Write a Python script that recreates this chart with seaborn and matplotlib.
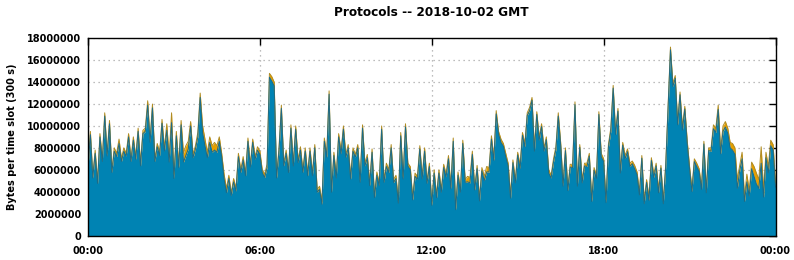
import numpy as np
import pandas as pd
import matplotlib
matplotlib.use("Agg")
import matplotlib.pyplot as plt
import seaborn as sns

# Top of stack (total bytes per 5-min slot, in millions), 00:00 .. 24:00
total_mb = [
    6.5, 9.5, 5.5, 7.8, 5.0, 9.3, 7.0, 11.2, 7.5, 10.5, 6.0, 8.0,
    7.5, 8.8, 7.0, 8.0, 7.5, 9.3, 7.0, 9.0, 7.2, 9.8, 6.6, 9.6,
    9.8, 12.3, 8.8, 12.0, 7.0, 8.4, 7.6, 10.6, 8.0, 10.2, 7.2, 11.2,
    5.6, 9.5, 6.5, 10.5, 7.5, 8.2, 8.6, 10.4, 7.4, 8.2, 9.4, 13.0,
    10.0, 8.8, 7.6, 9.0, 8.2, 8.5, 8.2, 9.0, 7.5, 5.6, 4.3, 5.5,
    3.9, 5.2, 4.3, 7.5, 6.0, 7.2, 5.7, 8.9, 6.5, 8.8, 7.2, 8.1,
    7.7, 6.0, 5.6, 6.5, 14.8, 14.5, 14.0, 5.5, 8.0, 11.9, 6.6, 7.8,
    6.0, 10.1, 6.6, 10.0, 6.9, 8.1, 6.0, 8.0, 5.7, 8.0, 5.7, 8.3,
    4.2, 4.5, 3.1, 8.9, 7.4, 13.2, 4.2, 7.6, 5.5, 9.3, 7.7, 10.0,
    7.4, 8.3, 5.4, 8.0, 7.4, 8.3, 5.1, 10.1, 6.6, 7.4, 4.8, 7.9,
    3.7, 5.8, 4.8, 10.0, 5.1, 6.6, 6.0, 8.3, 5.1, 5.5, 3.2, 9.4,
    5.4, 10.2, 6.6, 6.3, 3.5, 5.7, 5.4, 8.2, 5.4, 8.0, 5.0, 6.6,
    3.0, 6.0, 3.7, 6.0, 4.2, 6.5, 5.6, 7.3, 4.5, 8.9, 2.6, 5.8,
    4.2, 8.7, 5.1, 5.4, 5.3, 7.7, 4.4, 6.4, 3.4, 6.2, 5.4, 6.3,
    6.2, 9.1, 7.1, 11.4, 9.5, 8.8, 8.4, 7.5, 6.6, 3.7, 6.9, 5.1,
    7.6, 6.4, 9.4, 8.4, 11.2, 11.7, 12.6, 8.0, 11.3, 9.0, 10.2, 8.0,
    9.0, 6.0, 5.5, 7.0, 8.1, 11.2, 8.5, 4.8, 8.0, 4.4, 6.5, 6.5,
    12.2, 4.8, 8.3, 5.1, 6.6, 6.6, 7.5, 3.4, 6.2, 5.5, 11.3, 7.5,
    7.0, 3.3, 8.3, 9.8, 13.7, 9.5, 11.6, 6.0, 8.5, 7.3, 7.9, 6.6,
    6.8, 6.4, 5.8, 4.0, 7.3, 3.2, 5.1, 3.5, 7.1, 5.6, 6.6, 4.2,
    6.4, 3.2, 6.5, 11.8, 17.2, 13.9, 14.6, 10.4, 13.1, 9.9, 11.8, 8.7,
    6.3, 4.3, 7.0, 6.6, 6.1, 4.5, 8.6, 4.2, 8.0, 8.0, 10.1, 9.8,
    11.9, 7.8, 10.0, 10.4, 9.8, 8.5, 8.4, 8.0, 5.1, 6.4, 7.6, 3.5,
    5.6, 4.1, 6.7, 6.3, 5.7, 5.1, 8.1, 4.1, 7.6, 6.3, 8.7, 8.3,
    4.8,
]

# Thin orange layer on top (millions)
other_mb = [
    0.3, 0.3, 0.25, 0.3, 0.25, 0.3, 0.25, 0.3, 0.25, 0.3, 0.25, 0.3,
    0.3, 0.4, 0.25, 0.3, 0.25, 0.3, 0.25, 0.3, 0.25, 0.3, 0.25, 0.3,
    0.3, 0.4, 0.3, 0.35, 0.25, 0.3, 0.3, 0.35, 0.3, 0.6, 0.5, 0.9,
    0.4, 0.4, 0.3, 0.4, 0.8, 0.9, 0.7, 0.4, 0.3, 0.3, 0.4, 0.4,
    0.6, 0.6, 0.5, 0.5, 0.6, 0.7, 0.6, 0.4, 0.3, 0.4, 0.4, 0.3,
    0.25, 0.3, 0.25, 0.3, 0.25, 0.3, 0.25, 0.3, 0.25, 0.3, 0.25, 0.3,
    0.3, 0.25, 0.3, 0.3, 0.35, 0.4, 0.35, 0.25, 0.3, 0.3, 0.25, 0.3,
    0.25, 0.3, 0.25, 0.3, 0.25, 0.3, 0.25, 0.3, 0.25, 0.3, 0.25, 0.3,
    0.25, 0.3, 0.25, 0.3, 0.25, 0.3, 0.25, 0.3, 0.25, 0.3, 0.25, 0.3,
    0.25, 0.3, 0.25, 0.3, 0.25, 0.3, 0.25, 0.3, 0.25, 0.3, 0.25, 0.3,
    0.25, 0.3, 0.25, 0.3, 0.25, 0.3, 0.25, 0.3, 0.25, 0.3, 0.25, 0.3,
    0.25, 0.3, 0.25, 0.3, 0.25, 0.3, 0.25, 0.3, 0.25, 0.3, 0.25, 0.3,
    0.25, 0.3, 0.25, 0.3, 0.25, 0.3, 0.25, 0.3, 0.25, 0.3, 0.25, 0.3,
    0.25, 0.3, 0.25, 0.5, 0.5, 0.3, 0.25, 0.3, 0.25, 0.3, 0.4, 0.5,
    0.4, 0.3, 0.25, 0.3, 0.25, 0.3, 0.25, 0.3, 0.25, 0.3, 0.25, 0.3,
    0.25, 0.3, 0.25, 0.3, 0.25, 0.3, 0.25, 0.3, 0.25, 0.3, 0.25, 0.3,
    0.25, 0.3, 0.25, 0.3, 0.25, 0.3, 0.25, 0.3, 0.25, 0.3, 0.25, 0.3,
    0.25, 0.3, 0.25, 0.3, 0.25, 0.3, 0.25, 0.3, 0.25, 0.3, 0.25, 0.3,
    0.25, 0.3, 0.25, 0.3, 0.25, 0.3, 0.25, 0.3, 0.25, 0.3, 0.25, 0.3,
    0.25, 0.3, 0.25, 0.3, 0.25, 0.3, 0.25, 0.3, 0.25, 0.3, 0.25, 0.3,
    0.25, 0.3, 0.25, 0.3, 0.25, 0.3, 0.25, 0.3, 0.25, 0.3, 0.25, 0.3,
    0.25, 0.3, 0.25, 0.3, 0.25, 0.3, 0.25, 0.3, 0.25, 0.3, 0.35, 0.4,
    0.4, 0.35, 0.5, 0.5, 0.45, 0.5, 0.6, 0.6, 0.8, 0.5, 0.6, 0.4,
    0.7, 0.5, 0.6, 0.9, 1.0, 0.8, 1.5, 0.6, 0.5, 0.6, 0.5, 0.5,
    0.4,
]

hour_ticks = [0, 6, 12, 18, 24]
hour_labels = ["00:00", "06:00", "12:00", "18:00", "00:00"]
y_ticks = [0, 2000000, 4000000, 6000000, 8000000, 10000000,
           12000000, 14000000, 16000000, 18000000]

BLUE = "#0083b3"
ORANGE = "#e69f00"

sns.set_theme(style="white")
plt.rcParams['font.family'] = ['DejaVu Sans']
plt.rcParams['text.color'] = 'black'
plt.rcParams['axes.labelcolor'] = 'black'
plt.rcParams['xtick.color'] = 'black'
plt.rcParams['ytick.color'] = 'black'

n = len(total_mb)
hours = np.linspace(0, 24, n)
total = np.array(total_mb) * 1e6
other = np.array(other_mb) * 1e6
main = total - other
df = pd.DataFrame({"hour": hours, "main": main, "total": total})

W, H = 794, 260
L, R, T, B = 88, 775.5, 38.3, 235.5
fig = plt.figure(figsize=(W / 100, H / 100), dpi=100)
ax = fig.add_axes([L / W, 1 - B / H, (R - L) / W, (B - T) / H])

ax.fill_between(df["hour"], 0, df["main"], color=BLUE, lw=0, zorder=1)
ax.fill_between(df["hour"], df["main"], df["total"], color=ORANGE, lw=0, zorder=1)
sns.lineplot(data=df, x="hour", y="total", color="#b08c22", lw=0.7, ax=ax, zorder=2)
sns.lineplot(data=df, x="hour", y="main", color="#1d6a86", lw=0.7, ax=ax, zorder=2)

ax.set_xlim(0, 24)
ax.set_ylim(0, 18000000)
ax.set_xticks(hour_ticks)
ax.set_xticklabels(hour_labels)
ax.set_yticks(y_ticks)
ax.set_yticklabels([str(v) for v in y_ticks])
ax.set_xlabel("")
ax.set_ylabel("")

ax.tick_params(axis="both", direction="in", length=5, width=1, color="black",
               top=True, right=True, labelsize=7, labelcolor="black")
ax.tick_params(axis="y", pad=5)
ax.tick_params(axis="x", pad=7.5)
for lab in ax.get_xticklabels() + ax.get_yticklabels():
    lab.set_fontweight("bold")
    lab.set_color("black")

ax.set_axisbelow(True)
ax.grid(True, which="major", color="#a8a8a8", linestyle=(0, (1, 3)), linewidth=0.9)
for s in ax.spines.values():
    s.set_color("black")
    s.set_linewidth(1)
    s.set_zorder(5)

fig.text(12 / W, 1 - 137 / H, "Bytes per time slot (300 s)", rotation=90,
         ha="center", va="center", fontsize=7, fontweight="bold", color="black")
fig.text((L + R) / 2 / W, 1 - 12 / H, "Protocols -- 2018-10-02 GMT",
         ha="center", va="center", fontsize=8.7, fontweight="bold", color="black")

fig.savefig("out.png", dpi=100, facecolor="white")
